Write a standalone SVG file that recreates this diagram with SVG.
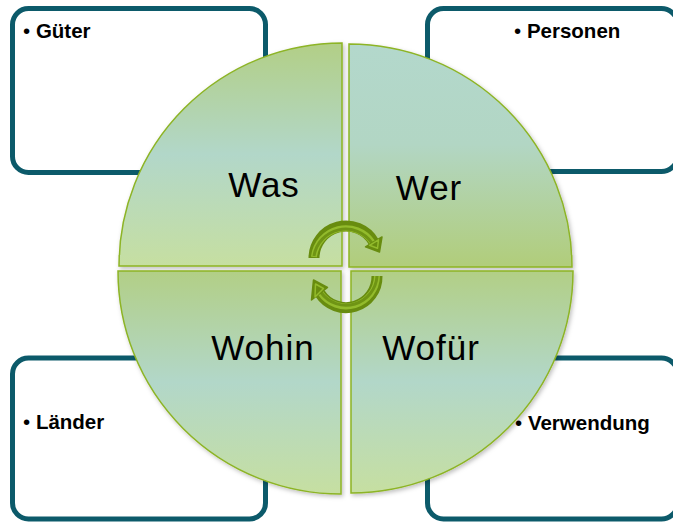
<svg xmlns="http://www.w3.org/2000/svg" width="673" height="522" viewBox="0 0 673 522">
<style>
.box{fill:#fff;stroke:#0c5a6a;stroke-width:5}
.lbl{font-family:"Liberation Sans",Arial,sans-serif;font-weight:bold;font-size:20.5px;fill:#000}
.b{font-weight:normal}
.q{stroke:#8db425;stroke-width:1.5;filter:url(#sh)}
.qt{font-family:"Liberation Sans",Arial,sans-serif;font-size:35px;letter-spacing:1px;fill:#000;text-anchor:middle}
.a1{fill:none;stroke:#688c0f;stroke-width:11}
.a2{fill:none;stroke:#93bb2c;stroke-width:6}
.a3{fill:none;stroke:#6f9414;stroke-width:3}
.ah{fill:#688c0f;stroke:#688c0f;stroke-width:1.5;stroke-linejoin:round}
.ah2{fill:none;stroke:#93bb2c;stroke-width:1.5;stroke-linejoin:round}
</style>
<defs>
<filter id="sh" x="-10%" y="-10%" width="130%" height="130%">
<feDropShadow dx="1.5" dy="2" stdDeviation="2" flood-color="#000" flood-opacity="0.25"/>
</filter>
<linearGradient id="gA" x1="0" y1="0" x2="0" y2="1">
<stop offset="0" stop-color="#b2cf86"/>
<stop offset="0.5" stop-color="#b2d7c9"/>
<stop offset="1" stop-color="#c6dfa1"/>
</linearGradient>
<linearGradient id="gB" x1="0" y1="0" x2="0" y2="1">
<stop offset="0" stop-color="#b3d8cc"/>
<stop offset="0.45" stop-color="#b2d6c4"/>
<stop offset="1" stop-color="#b1cd7a"/>
</linearGradient>
</defs>

<g id="box-gueter">
<rect class="box" x="12.5" y="8.5" width="253" height="164" rx="16"/>
<text class="lbl" x="23" y="38"><tspan class="b">•</tspan> Güter</text>
</g>
<g id="box-personen">
<rect class="box" x="427.5" y="8.5" width="250" height="163" rx="16"/>
<text class="lbl" x="514" y="38"><tspan class="b">•</tspan> Personen</text>
</g>
<g id="box-laender">
<rect class="box" x="12.5" y="358" width="253" height="161" rx="16"/>
<text class="lbl" x="23" y="429"><tspan class="b">•</tspan> Länder</text>
</g>
<g id="box-verwendung">
<rect class="box" x="427.5" y="358" width="250" height="161" rx="16"/>
</g>

<g id="q-was">
<path class="q" fill="url(#gA)" d="M342,266 H119 A223,223 0 0 1 342,43 Z"/>
<text class="qt" x="264" y="197">Was</text>
</g>
<g id="q-wer">
<path class="q" fill="url(#gB)" d="M349,267 V44 A223,223 0 0 1 572,267 Z"/>
<text class="qt" x="429" y="200">Wer</text>
</g>
<g id="q-wohin">
<path class="q" fill="url(#gA)" d="M341,271 V494 A223,223 0 0 1 118,271 Z"/>
<text class="qt" x="263" y="360">Wohin</text>
</g>
<g id="q-wofuer">
<path class="q" fill="url(#gA)" d="M351,271 H573 A222,222 0 0 1 351,493 Z"/>
<text class="qt" x="431" y="360">Wofür</text>
</g>

<g id="connectors">
<g id="arrow-top">
<path class="a1" d="M314,258 A32,32 0 0 1 373.7,242"/>
<path class="a2" d="M314,257 A32,32 0 0 1 372.5,242.5"/>
<path class="a3" d="M314,256 A32,32 0 0 1 372,243"/>
<polygon class="ah" points="382,237 365.5,246.8 379.5,252"/>
<polygon class="ah2" points="378.5,239.8 369.5,245.3 377.5,248.3"/>
</g>
<g id="arrow-bottom">
<path class="a1" d="M377,276 A31,31 0 0 1 320,293.5"/>
<path class="a2" d="M377,276 A31,31 0 0 1 320.5,293"/>
<path class="a3" d="M377,276 A31,31 0 0 1 321,292.5"/>
<polygon class="ah" points="311.5,300 327.5,287.5 313.5,280"/>
<polygon class="ah2" points="315,297 323.5,288.5 315.5,284"/>
</g>
</g>

<g id="box-verwendung-label">
<text class="lbl" x="515" y="430"><tspan class="b">•</tspan> Verwendung</text>
</g>
</svg>
